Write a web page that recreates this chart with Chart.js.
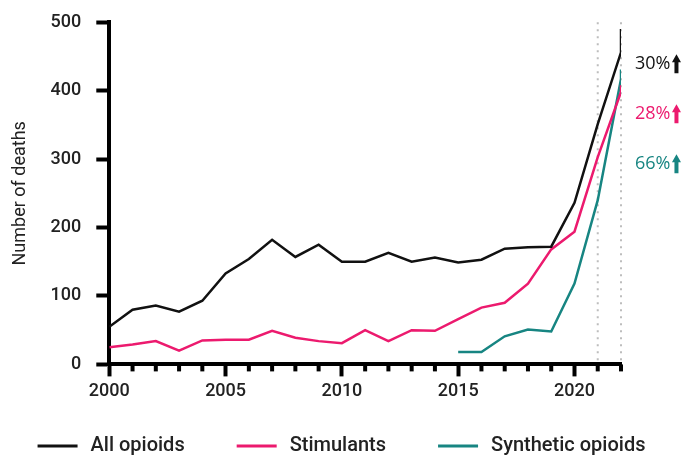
<!DOCTYPE html>
<html>
<head>
<meta charset="utf-8">
<script src="https://cdn.jsdelivr.net/npm/chart.js@4"></script>
<style>
  html, body { margin: 0; padding: 0; background: #fff; }
  #wrap { width: 683px; height: 455px; }
</style>
</head>
<body>
<div id="wrap"><canvas id="deaths"></canvas></div>
<script>
const years = [2000, 2001, 2002, 2003, 2004, 2005, 2006, 2007, 2008, 2009, 2010,
  2011, 2012, 2013, 2014, 2015, 2016, 2017, 2018, 2019, 2020, 2021, 2022];
const allOpioids = [55, 80, 86, 77, 93, 133, 154, 182, 157, 175, 150,
  150, 163, 150, 156, 149, 153, 169, 171, 172, 236, 351, 456];
const stimulants = [25, 29, 34, 20, 35, 36, 36, 49, 39, 34, 31,
  50, 34, 50, 49, 66, 83, 90, 118, 168, 194, 303, 398];
const synthetic = [null, null, null, null, null, null, null, null, null, null, null,
  null, null, null, null, 18, 18, 41, 51, 48, 118, 240, 417];
// the lines hook up sharply right at the end of 2022
const endValues = [490, 408, 431];
const yearLabels = [2000, 2005, 2010, 2015, 2020];
const seriesNames = ['All opioids', 'Stimulants', 'Synthetic opioids'];
const seriesColors = ['#111111', '#ec1a6e', '#178582'];
const changeLabels = ['30%', '28%', '66%'];
const markedYears = [2021, 2022];

function toPoints(values, end) {
  const pts = [];
  values.forEach((v, i) => { if (v !== null) pts.push({ x: years[i], y: v }); });
  pts.push({ x: years[years.length - 1], y: end });
  return pts;
}

const FONT = 'Roboto, "Noto Sans", sans-serif';

const extras = {
  id: 'extras',
  beforeDatasetsDraw(chart) {
    const { ctx, chartArea, scales: { x } } = chart;
    ctx.save();
    ctx.strokeStyle = '#bdbdbd';
    ctx.lineWidth = 2;
    ctx.setLineDash([2, 5]);
    markedYears.forEach(yr => {
      const px = x.getPixelForValue(yr);
      ctx.beginPath();
      ctx.moveTo(px, chartArea.top);
      ctx.lineTo(px, chartArea.bottom);
      ctx.stroke();
    });
    ctx.restore();
  },
  afterDraw(chart) {
    const { ctx, chartArea, scales: { x } } = chart;
    ctx.save();
    // minor year ticks
    ctx.strokeStyle = '#000';
    ctx.lineWidth = 4;
    years.forEach(yr => {
      if (yearLabels.includes(yr)) return;
      const px = x.getPixelForValue(yr);
      ctx.beginPath();
      ctx.moveTo(px, chartArea.bottom);
      ctx.lineTo(px, chartArea.bottom + 7);
      ctx.stroke();
    });

    // change labels with arrows
    ctx.font = '18px "Open Sans", "Noto Sans", sans-serif';
    ctx.textBaseline = 'middle';
    changeLabels.forEach((txt, i) => {
      const y = chartArea.top + 42 + i * 50;
      const left = chartArea.right + 14;
      ctx.fillStyle = seriesColors[i];
      ctx.fillText(txt, left, y);
      const ax = left + ctx.measureText(txt).width + 6;
      ctx.beginPath();
      ctx.moveTo(ax, y - 10);
      ctx.lineTo(ax + 4.5, y - 2);
      ctx.lineTo(ax + 2, y - 2);
      ctx.lineTo(ax + 2, y + 9);
      ctx.lineTo(ax - 2, y + 9);
      ctx.lineTo(ax - 2, y - 2);
      ctx.lineTo(ax - 4.5, y - 2);
      ctx.closePath();
      ctx.fill();
    });

    // legend
    ctx.font = '500 20px ' + FONT;
    const lineW = 40, textGap = 13, itemGap = 52;
    const widths = seriesNames.map(n => lineW + textGap + ctx.measureText(n).width);
    const total = widths.reduce((a, b) => a + b, 0) + itemGap * (widths.length - 1);
    let lx = (chart.width - total) / 2;
    const ly = chart.height - 9;
    seriesNames.forEach((name, i) => {
      ctx.strokeStyle = seriesColors[i];
      ctx.lineWidth = 3;
      ctx.beginPath();
      ctx.moveTo(lx, ly);
      ctx.lineTo(lx + lineW, ly);
      ctx.stroke();
      ctx.fillStyle = '#222';
      ctx.fillText(name, lx + lineW + textGap, ly);
      lx += widths[i] + itemGap;
    });
    ctx.restore();
  }
};

new Chart(document.getElementById('deaths'), {
  type: 'line',
  data: {
    datasets: [
      { label: seriesNames[0], data: toPoints(allOpioids, endValues[0]) },
      { label: seriesNames[1], data: toPoints(stimulants, endValues[1]) },
      { label: seriesNames[2], data: toPoints(synthetic, endValues[2]) }
    ].map((d, i) => Object.assign(d, {
      borderColor: seriesColors[i],
      backgroundColor: seriesColors[i],
      borderWidth: 2.5,
      pointRadius: 0,
      tension: 0
    }))
  },
  options: {
    responsive: true,
    maintainAspectRatio: false,
    animation: false,
    layout: { padding: { top: 0, right: 62, left: 6, bottom: 49 } },
    plugins: {
      tooltip: { enabled: false },
      legend: { display: false }
    },
    scales: {
      x: {
        type: 'linear',
        min: 2000,
        max: 2022,
        afterBuildTicks: axis => { axis.ticks = yearLabels.map(v => ({ value: v })); },
        border: { color: '#000', width: 4 },
        grid: { drawOnChartArea: false, tickLength: 12, tickWidth: 4, tickColor: '#000' },
        ticks: {
          autoSkip: false,
          maxRotation: 0,
          padding: 4,
          color: '#222',
          font: { family: FONT, size: 18, weight: '500' },
          callback: v => String(v)
        }
      },
      y: {
        min: 0,
        max: 500,
        border: { color: '#000', width: 4 },
        grid: { drawOnChartArea: false, tickLength: 13, tickWidth: 4, tickColor: '#000' },
        ticks: {
          stepSize: 100,
          padding: 15,
          color: '#222',
          font: { family: FONT, size: 18, weight: '500', lineHeight: 0.8 }
        },
        title: {
          display: true,
          text: 'Number of deaths',
          color: '#222',
          padding: { bottom: 4 },
          font: { family: FONT, size: 18, weight: '400' }
        }
      }
    }
  },
  plugins: [extras]
});
</script>
</body>
</html>
